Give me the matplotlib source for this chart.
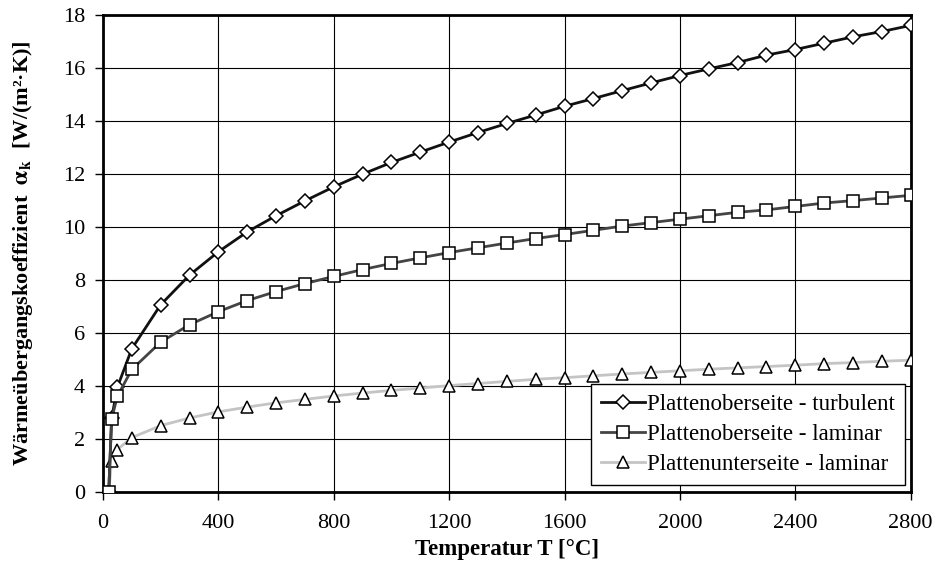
import matplotlib
matplotlib.use("Agg")
import matplotlib.pyplot as plt

temperatur = [20, 30, 50, 100, 200, 300, 400, 500, 600, 700, 800, 900, 1000,
              1100, 1200, 1300, 1400, 1500, 1600, 1700, 1800, 1900, 2000,
              2100, 2200, 2300, 2400, 2500, 2600, 2700, 2800]

oben_turbulent = [0, 2.77, 3.95, 5.4, 7.06, 8.18, 9.06, 9.81, 10.42, 10.98, 11.51,
                  11.99, 12.43, 12.82, 13.2, 13.56, 13.9, 14.22, 14.55, 14.84,
                  15.14, 15.43, 15.71, 15.96, 16.2, 16.48, 16.69, 16.93, 17.17,
                  17.37, 17.6]

oben_laminar = [0, 2.75, 3.61, 4.62, 5.65, 6.31, 6.8, 7.22, 7.56, 7.86, 8.13,
                8.39, 8.62, 8.83, 9.03, 9.21, 9.39, 9.56, 9.71, 9.87, 10.03,
                10.16, 10.29, 10.42, 10.55, 10.64, 10.77, 10.9, 10.99, 11.09,
                11.19]

unten_laminar = [0, 1.17, 1.6, 2.05, 2.5, 2.79, 3.02, 3.2, 3.36, 3.49, 3.62,
                 3.73, 3.83, 3.92, 4.01, 4.09, 4.17, 4.25, 4.31, 4.38, 4.45,
                 4.51, 4.57, 4.63, 4.68, 4.73, 4.78, 4.84, 4.88, 4.93, 4.97]

plt.rcParams['font.family'] = ['Liberation Serif', 'DejaVu Serif']
plt.rcParams['mathtext.fontset'] = 'stix'

fig = plt.figure(figsize=(9.36, 5.70), dpi=100)
ax = fig.add_axes([0.110, 0.137, 0.863, 0.837])

ax.plot(temperatur, unten_laminar, color='#c4c4c4', lw=2, marker='^', ms=9,
        mfc='white', mec='black', mew=1.1, label='Plattenunterseite - laminar', zorder=3)
ax.plot(temperatur, oben_turbulent, color='#111111', lw=2, marker='D', ms=7,
        mfc='white', mec='black', mew=1.1, label='Plattenoberseite - turbulent', zorder=4)
ax.plot(temperatur, oben_laminar, color='#444444', lw=2, marker='s', ms=8.5,
        mfc='white', mec='black', mew=1.1, label='Plattenoberseite - laminar', zorder=5)

ax.set_xlim(0, 2800)
ax.set_ylim(0, 18)
ax.set_xticks(range(0, 2801, 400))
ax.set_yticks(range(0, 19, 2))
ax.grid(True, color='black', lw=0.8)
ax.set_axisbelow(True)
for s in ax.spines.values():
    s.set_linewidth(2)
ax.tick_params(labelsize=16, direction='out', length=6, width=1)
ax.tick_params(axis='x', pad=10)
ax.tick_params(axis='y', pad=7)

ax.set_xlabel('Temperatur T [°C]', fontsize=16.5, fontweight='bold', labelpad=4)
ax.set_ylabel(r'Wärmeübergangskoeffizient  $\mathbf{\alpha_k}$  [W/(m²·K)]',
              fontsize=16, fontweight='bold', labelpad=20)

h, l = ax.get_legend_handles_labels()
order = [1, 2, 0]
leg = ax.legend([h[i] for i in order], [l[i] for i in order], loc='lower right',
                bbox_to_anchor=(0.993, 0.014), fontsize=16.5, fancybox=False,
                edgecolor='black', framealpha=1, handlelength=1.9,
                handletextpad=0.1, borderpad=0.45, labelspacing=0.38,
                borderaxespad=0)
leg.get_frame().set_linewidth(1)

fig.savefig('out.png', dpi=100)
